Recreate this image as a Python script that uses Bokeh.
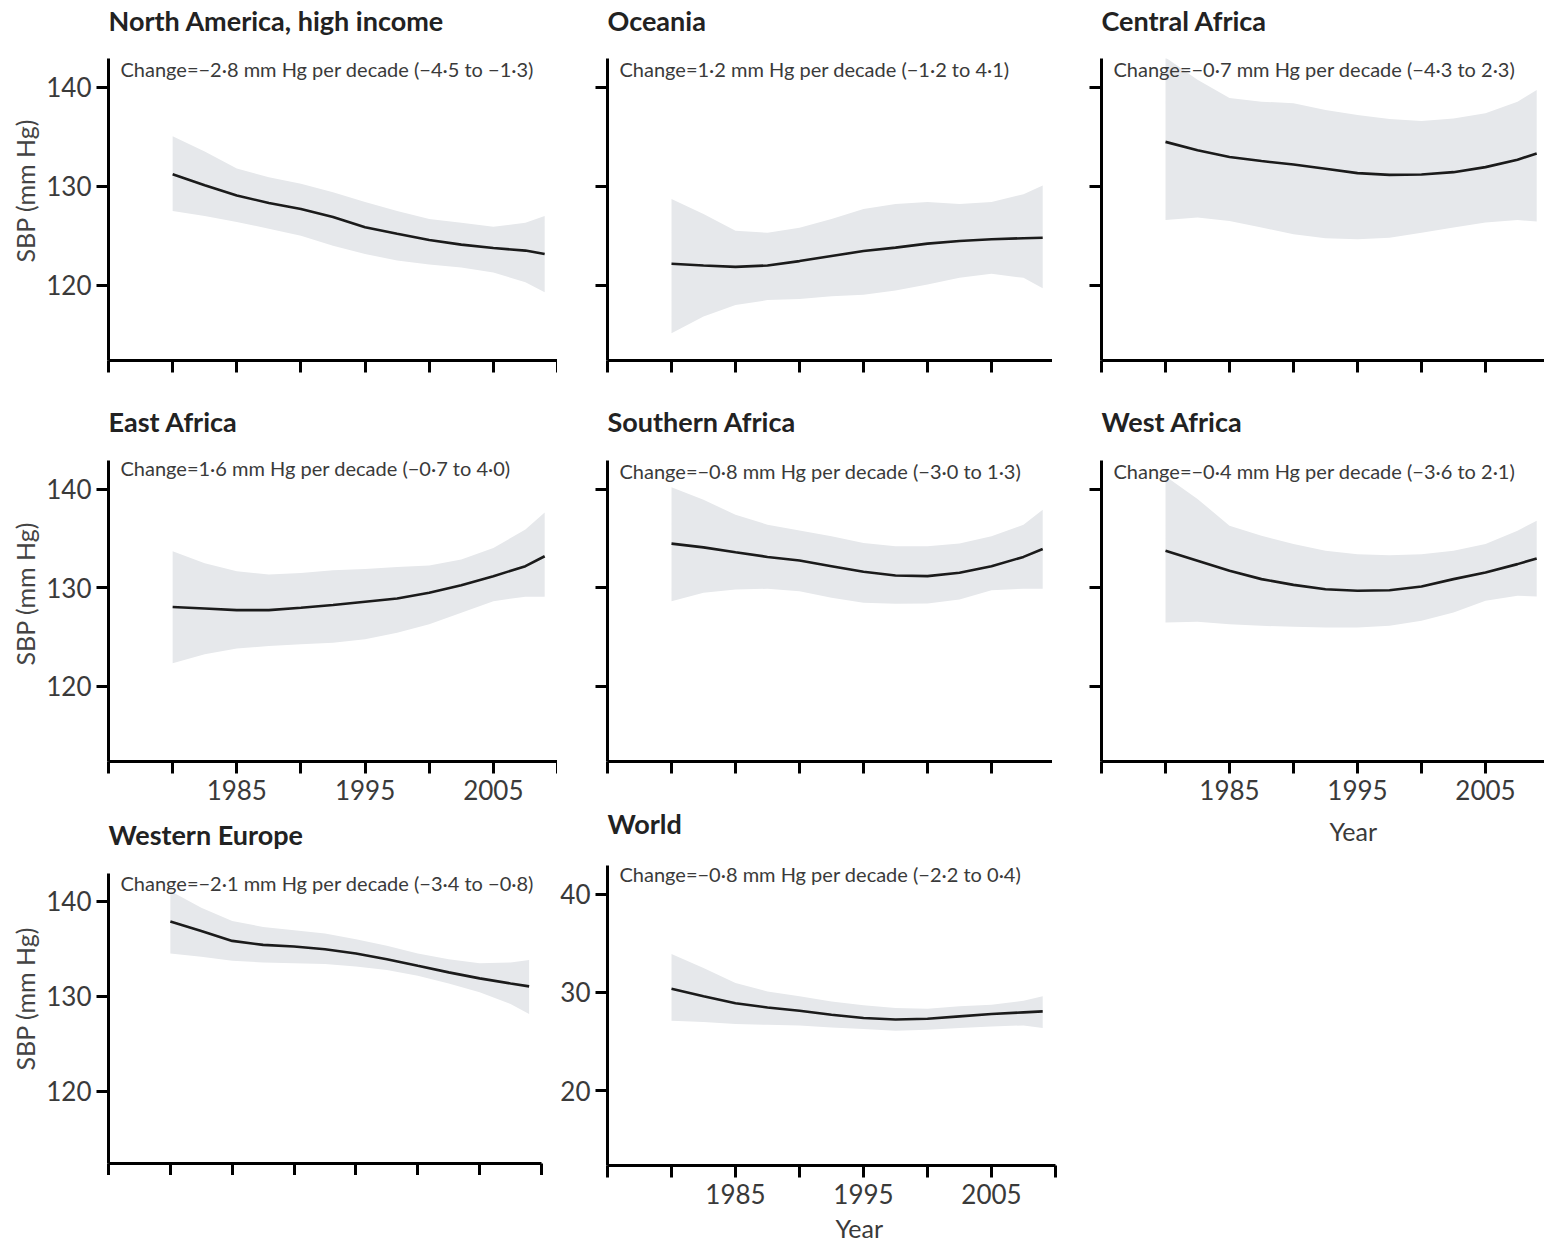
from bokeh.plotting import figure
from bokeh.models import Range1d, Label, FixedTicker, Title
from bokeh.layouts import row, column
from bokeh.embed import file_html
from bokeh.resources import INLINE

# ---------------- data ----------------
years = [1980, 1982.5, 1985, 1987.5, 1990, 1992.5, 1995, 1997.5, 2000, 2002.5, 2005, 2007.5, 2009]

na_mid = [131.2, 130.1, 129.07, 128.3, 127.7, 126.9, 125.85, 125.2, 124.57, 124.1, 123.76, 123.5, 123.15]
na_hi = [135.06, 133.5, 131.8, 130.9, 130.25, 129.4, 128.4, 127.5, 126.7, 126.3, 125.9, 126.3, 127.0]
na_lo = [127.5, 127.0, 126.4, 125.7, 125.0, 124.0, 123.15, 122.5, 122.1, 121.8, 121.3, 120.3, 119.3]

oc_mid = [122.17, 122.0, 121.86, 122.0, 122.44, 122.95, 123.46, 123.8, 124.2, 124.47, 124.64, 124.75, 124.8]
oc_hi = [128.7, 127.2, 125.5, 125.3, 125.8, 126.7, 127.7, 128.2, 128.4, 128.2, 128.4, 129.2, 130.07]
oc_lo = [115.15, 116.85, 118.0, 118.5, 118.6, 118.9, 119.05, 119.46, 120.07, 120.75, 121.15, 120.75, 119.7]

ca_mid = [134.48, 133.63, 132.95, 132.54, 132.2, 131.76, 131.32, 131.15, 131.18, 131.42, 131.93, 132.68, 133.3]
ca_hi = [143.0, 140.75, 138.9, 138.54, 138.37, 137.7, 137.2, 136.8, 136.6, 136.85, 137.36, 138.54, 139.73]
ca_lo = [126.58, 126.85, 126.5, 125.83, 125.15, 124.75, 124.64, 124.8, 125.3, 125.83, 126.34, 126.58, 126.44]

ea_mid = [128.05, 127.9, 127.74, 127.74, 127.98, 128.25, 128.59, 128.92, 129.5, 130.27, 131.18, 132.19, 133.2]
ea_hi = [133.7, 132.5, 131.68, 131.35, 131.5, 131.78, 131.9, 132.1, 132.26, 132.86, 134.04, 135.9, 137.64]
ea_lo = [122.36, 123.27, 123.84, 124.1, 124.28, 124.44, 124.78, 125.45, 126.3, 127.47, 128.65, 129.1, 129.1]

sa_mid = [134.48, 134.1, 133.6, 133.13, 132.76, 132.19, 131.62, 131.25, 131.18, 131.52, 132.19, 133.13, 133.94]
sa_hi = [140.2, 138.92, 137.4, 136.4, 135.8, 135.22, 134.55, 134.2, 134.2, 134.48, 135.22, 136.4, 137.9]
sa_lo = [128.65, 129.5, 129.83, 129.9, 129.66, 128.99, 128.48, 128.38, 128.42, 128.82, 129.76, 129.9, 129.9]

wa_mid = [133.75, 132.74, 131.72, 130.88, 130.3, 129.86, 129.7, 129.76, 130.14, 130.88, 131.55, 132.4, 132.97]
wa_hi = [141.3, 139.0, 136.3, 135.27, 134.43, 133.75, 133.4, 133.3, 133.4, 133.75, 134.43, 135.78, 136.8]
wa_lo = [126.49, 126.55, 126.32, 126.15, 126.05, 125.98, 125.98, 126.15, 126.66, 127.5, 128.68, 129.2, 129.12]

we_mid = [137.84, 136.86, 135.81, 135.39, 135.22, 134.94, 134.49, 133.89, 133.19, 132.5, 131.87, 131.34, 131.03]
we_hi = [141.05, 139.3, 137.9, 137.28, 136.93, 136.58, 135.99, 135.29, 134.49, 133.89, 133.47, 133.54, 133.79]
we_lo = [134.49, 134.15, 133.72, 133.54, 133.47, 133.37, 133.12, 132.74, 132.15, 131.34, 130.4, 129.18, 128.13]

wo_mid = [130.37, 129.6, 128.9, 128.47, 128.14, 127.73, 127.39, 127.25, 127.32, 127.56, 127.8, 127.97, 128.07]
wo_hi = [133.9, 132.47, 130.95, 130.1, 129.6, 129.08, 128.68, 128.4, 128.34, 128.58, 128.75, 129.15, 129.6]
wo_lo = [127.12, 126.98, 126.78, 126.71, 126.64, 126.44, 126.27, 126.1, 126.2, 126.37, 126.54, 126.64, 126.37]

titles = ["North America, high income", "Oceania", "Central Africa", "East Africa",
          "Southern Africa", "West Africa", "Western Europe", "World"]
notes = ["Change=\u22122\u00b78 mm Hg per decade (\u22124\u00b75 to \u22121\u00b73)",
         "Change=1\u00b72 mm Hg per decade (\u22121\u00b72 to 4\u00b71)",
         "Change=\u22120\u00b77 mm Hg per decade (\u22124\u00b73 to 2\u00b73)",
         "Change=1\u00b76 mm Hg per decade (\u22120\u00b77 to 4\u00b70)",
         "Change=\u22120\u00b78 mm Hg per decade (\u22123\u00b70 to 1\u00b73)",
         "Change=\u22120\u00b74 mm Hg per decade (\u22123\u00b76 to 2\u00b71)",
         "Change=\u22122\u00b71 mm Hg per decade (\u22123\u00b74 to \u22120\u00b78)",
         "Change=\u22120\u00b78 mm Hg per decade (\u22122\u00b72 to 0\u00b74)"]

x_ticks = [1975, 1980, 1985, 1990, 1995, 2000, 2005, 2010]
x_tick_labels = {1985: "1985", 1995: "1995", 2005: "2005"}
y_ticks = [120, 130, 140]
y_tick_labels = {120: "120", 130: "130", 140: "140"}
world_y_tick_labels = {120: "20", 130: "30", 140: "40"}
y_title = "SBP (mm Hg)"
x_title = "Year"

FONT = "Lato"
BAND = "#e6e8eb"
LINE = "#1b1b1b"
TXT = "#3a3a3a"
Y0, Y1 = 112.4, 142.9


def panel(title, note, mid, lo, hi, fw, fh, bl, br, bt, bb, note_dy, title_pad=21,
          ylabels=None, xlabels=False, sbp_off=None, year_standoff=None):
    p = figure(frame_width=fw, frame_height=fh, min_border_left=bl, min_border_right=br,
               min_border_top=bt, min_border_bottom=bb,
               x_range=Range1d(1975, 2010), y_range=Range1d(Y0, Y1),
               output_backend="svg", toolbar_location=None)
    p.title = Title(text=title, align="left", vertical_align="bottom", standoff=0,
                    padding=(0, 0, 0, title_pad),
                    text_font=FONT, text_font_size="27px", text_font_style="bold",
                    text_color="#222222")
    p.outline_line_color = None
    p.xgrid.visible = False
    p.ygrid.visible = False
    p.background_fill_color = "white"
    p.border_fill_color = "white"

    p.varea(x=years, y1=lo, y2=hi, fill_color=BAND, fill_alpha=1.0)
    p.line(x=years, y=mid, line_color=LINE, line_width=2.6)

    for ax, ticks in ((p.xaxis[0], x_ticks), (p.yaxis[0], y_ticks)):
        ax.ticker = FixedTicker(ticks=ticks, minor_ticks=[])
        ax.axis_line_width = 3
        ax.axis_line_color = "black"
        ax.major_tick_line_width = 3
        ax.major_tick_line_color = "black"
        ax.major_tick_out = 12
        ax.major_tick_in = 0
        ax.minor_tick_line_color = None
        ax.major_label_text_font = FONT
        ax.major_label_text_font_size = "26px"
        ax.major_label_text_color = TXT

    if xlabels:
        p.xaxis[0].major_label_overrides = {t: x_tick_labels.get(t, "") for t in x_ticks}
        p.xaxis[0].major_label_standoff = 6
    else:
        p.xaxis[0].major_label_overrides = {t: "" for t in x_ticks}
        p.xaxis[0].major_label_text_font_size = "0px"
        p.xaxis[0].major_label_standoff = 0
    if ylabels is not None:
        p.yaxis[0].major_label_overrides = {t: ylabels[t] for t in y_ticks}
        p.yaxis[0].major_label_standoff = 5
    else:
        p.yaxis[0].major_label_overrides = {t: "" for t in y_ticks}
        p.yaxis[0].major_label_text_font_size = "0px"
        p.yaxis[0].major_label_standoff = 0

    p.add_layout(Label(x=1975, y=Y1, x_offset=12, y_offset=-note_dy, text=note,
                       text_font=FONT, text_font_size="20px", text_color=TXT,
                       text_baseline="middle", text_align="left"))
    if sbp_off is not None:
        p.add_layout(Title(text=y_title, align="left", offset=sbp_off, standoff=8,
                           text_font=FONT, text_font_size="25px", text_font_style="normal",
                           text_color="#444444"), "left")
    if year_standoff is not None:
        p.add_layout(Title(text=x_title, align="left", offset=228, standoff=year_standoff,
                           text_font=FONT, text_font_size="25px", text_font_style="normal",
                           text_color=TXT), "below")
    return p


na = panel(titles[0], notes[0], na_mid, na_lo, na_hi, 449, 302, 108, 0, 58, 40, 10,
           title_pad=22, ylabels=y_tick_labels, sbp_off=98)
ea = panel(titles[3], notes[3], ea_mid, ea_lo, ea_hi, 449, 301, 108, 0, 60, 52, 7,
           title_pad=23, ylabels=y_tick_labels, xlabels=True, sbp_off=96)
we = panel(titles[6], notes[6], we_mid, we_lo, we_hi, 433, 290, 108, 16, 60, 10, 9,
           title_pad=23, ylabels=y_tick_labels, sbp_off=93)

oc = panel(titles[1], notes[1], oc_mid, oc_lo, oc_hi, 448, 302, 45, 2, 58, 40, 10,
           title_pad=22)
sa = panel(titles[4], notes[4], sa_mid, sa_lo, sa_hi, 448, 301, 45, 2, 60, 40, 10,
           title_pad=23)
wo = panel(titles[7], notes[7], wo_mid, wo_lo, wo_hi, 448, 300, 45, 2, 64, 81, 8,
           title_pad=26, ylabels=world_y_tick_labels, xlabels=True, year_standoff=8)

ca = panel(titles[2], notes[2], ca_mid, ca_lo, ca_hi, 448, 302, 44, 0, 58, 40, 10,
           title_pad=22)
wa = panel(titles[5], notes[5], wa_mid, wa_lo, wa_hi, 448, 301, 44, 0, 60, 90, 10,
           title_pad=23, xlabels=True, year_standoff=22)

layout = row(column(na, ea, we), column(oc, sa, wo), column(ca, wa))

open("out.html", "w").write(file_html(layout, INLINE))
